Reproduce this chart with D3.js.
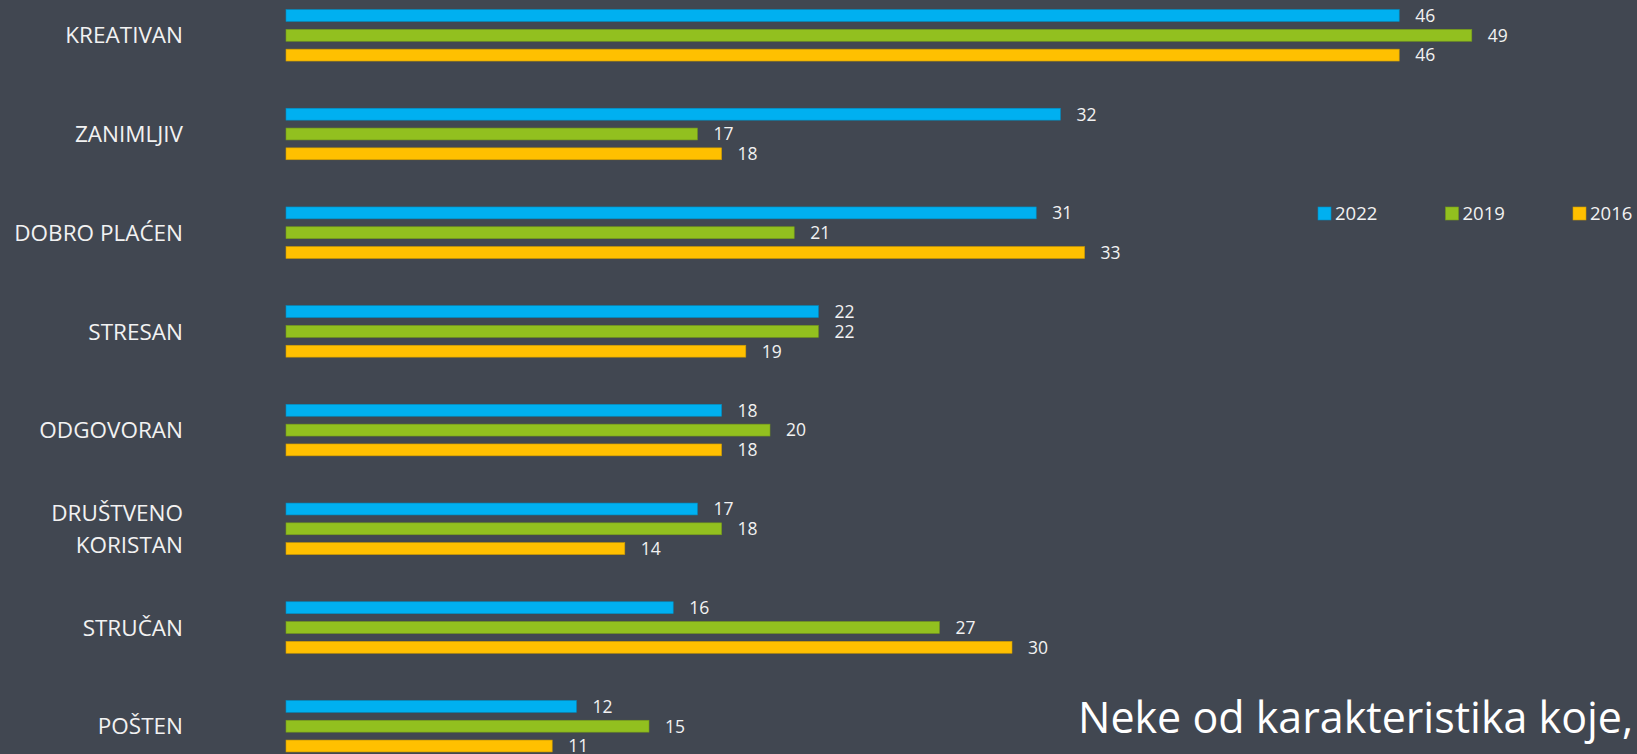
<!DOCTYPE html>
<html>
<head>
<meta charset="utf-8">
<script src="https://cdn.jsdelivr.net/npm/d3@7"></script>
<style>
  body { margin: 0; background: #414751; }
  svg { display: block; }
</style>
</head>
<body>
<svg id="chart"></svg>
<script>
// data
var categories = ["KREATIVAN", "ZANIMLJIV", "DOBRO PLAĆEN", "STRESAN", "ODGOVORAN", "DRUŠTVENO KORISTAN", "STRUČAN", "POŠTEN"];
var series = ["2022", "2019", "2016"];
var values2022 = [46, 32, 31, 22, 18, 17, 16, 12];
var values2019 = [49, 17, 21, 22, 20, 18, 27, 15];
var values2016 = [46, 18, 33, 19, 18, 14, 30, 11];
var colors = ["#00B0F0", "#92C01F", "#FFC000"];
var subtitle = "Neke od karakteristika koje,";

var width = 1637, height = 754;
var allValues = [values2022, values2019, values2016];

var svg = d3.select("#chart")
    .attr("width", width)
    .attr("height", height);

svg.append("rect")
    .attr("width", width)
    .attr("height", height)
    .attr("fill", "#414751");

// scales
var xScale = d3.scaleLinear()
    .domain([0, 50])
    .range([286, 1496]);

var groupStep = 98.7;
var yScale = d3.scaleBand()
    .domain(categories)
    .range([35.3 - groupStep / 2, 35.3 - groupStep / 2 + groupStep * categories.length])
    .paddingInner(0);

var inner = (yScale.bandwidth() - 59.4) / 2;
var ySub = d3.scaleBand()
    .domain(series)
    .range([inner, inner + 59.4])
    .paddingInner(0.4)
    .paddingOuter(0.2);

// flatten rows
var rows = [];
categories.forEach(function (c, i) {
    series.forEach(function (s, j) {
        rows.push({ cat: c, series: s, value: allValues[j][i], color: colors[j] });
    });
});

var groups = svg.append("g");

groups.selectAll("rect.bar")
    .data(rows)
    .enter()
    .append("rect")
    .attr("class", "bar")
    .attr("x", xScale(0))
    .attr("y", function (d) { return yScale(d.cat) + ySub(d.series); })
    .attr("width", function (d) { return xScale(d.value) - xScale(0); })
    .attr("height", ySub.bandwidth())
    .attr("fill", function (d) { return d.color; })
    .attr("stroke", function (d) { return d3.color(d.color).darker(0.6); })
    .attr("stroke-width", 0.6);

// value labels
groups.selectAll("text.val")
    .data(rows)
    .enter()
    .append("text")
    .attr("class", "val")
    .attr("x", function (d) { return xScale(d.value) + 16; })
    .attr("y", function (d) { return yScale(d.cat) + ySub(d.series) + ySub.bandwidth() / 2; })
    .attr("dy", "0.36em")
    .attr("font-family", "'Open Sans', sans-serif")
    .attr("font-size", 17.5)
    .attr("fill", "#F2F2F2")
    .text(function (d) { return d.value; });

// category labels (wrap the two-word one)
var catLabels = svg.selectAll("text.cat")
    .data(categories)
    .enter()
    .append("text")
    .attr("class", "cat")
    .attr("text-anchor", "end")
    .attr("font-family", "'Open Sans', sans-serif")
    .attr("font-size", 22.5)
    .attr("fill", "#F2F2F2")
    .attr("x", 183)
    .attr("y", function (d) { return yScale(d) + yScale.bandwidth() / 2; });

catLabels.each(function (d) {
    var lines = d === "DRUŠTVENO KORISTAN" ? d.split(" ") : [d];
    var t = d3.select(this);
    var lineGap = 32;
    lines.forEach(function (line, k) {
        t.append("tspan")
            .attr("x", 183)
            .attr("y", yScale(d) + yScale.bandwidth() / 2 + (k - (lines.length - 1) / 2) * lineGap)
            .attr("dy", "0.36em")
            .text(line);
    });
});

// legend
var legend = svg.append("g")
    .attr("transform", "translate(1318, 207)");

var legendItems = legend.selectAll("g")
    .data(series)
    .enter()
    .append("g")
    .attr("transform", function (d, i) { return "translate(" + (i * 127.5) + ",0)"; });

legendItems.append("rect")
    .attr("width", 13)
    .attr("height", 13)
    .attr("fill", function (d, i) { return colors[i]; })
    .attr("stroke", function (d, i) { return d3.color(colors[i]).darker(0.6); })
    .attr("stroke-width", 0.6);

legendItems.append("text")
    .attr("x", 17)
    .attr("y", 6.5)
    .attr("dy", "0.36em")
    .attr("font-family", "'Open Sans', sans-serif")
    .attr("font-size", 18.5)
    .attr("fill", "#F2F2F2")
    .text(function (d) { return d; });

// cut-off subtitle text in the corner
svg.append("text")
    .attr("x", 1078)
    .attr("y", 733)
    .attr("font-family", "'Open Sans', sans-serif")
    .attr("font-size", 43)
    .attr("fill", "#FFFFFF")
    .text(subtitle);
</script>
</body>
</html>
